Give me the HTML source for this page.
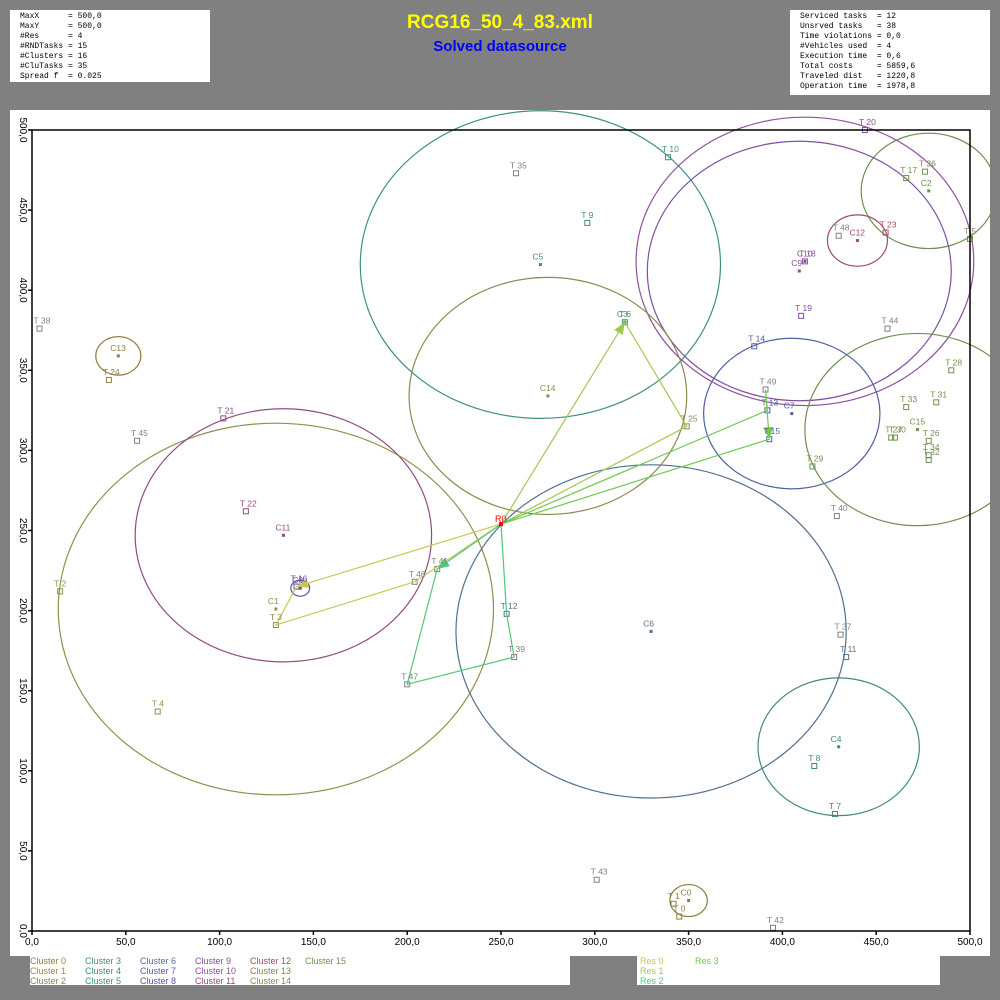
<!DOCTYPE html>
<html><head><meta charset="utf-8"><style>
body{margin:0;width:1000px;height:1000px;background:#808080;overflow:hidden;font-family:"Liberation Sans",sans-serif}
.box{position:absolute;background:#fff}
.info{font-family:"Liberation Mono",monospace;font-size:8px;line-height:10px;white-space:pre;color:#000;padding:2px 0 0 10px}
.leg{position:absolute;font-size:9px;line-height:10px}
</style></head><body>
<div class="box info" style="left:10px;top:10px;width:190px;height:70px">MaxX      = 500,0
MaxY      = 500,0
#Res      = 4
#RNDTasks = 15
#Clusters = 16
#CluTasks = 35
Spread f  = 0.025</div>
<div class="box info" style="left:790px;top:10px;width:190px;height:83px">Serviced tasks  = 12
Unsrved tasks   = 38
Time violations = 0,0
#Vehicles used  = 4
Execution time  = 0,6
Total costs     = 5859,6
Traveled dist   = 1220,8
Operation time  = 1978,8</div>
<div style="position:absolute;left:0;width:1000px;top:12px;text-align:center;color:#ffff00;font-weight:bold;font-size:19px">RCG16_50_4_83.xml</div>
<div style="position:absolute;left:0;width:1000px;top:38px;text-align:center;color:#0000ff;font-weight:bold;font-size:15px">Solved datasource</div>
<div class="box" style="left:10px;top:110px;width:980px;height:846px"></div>
<svg id="plot" width="1000" height="1000" style="position:absolute;left:0;top:0"></svg>
<div class="box" style="left:30px;top:955px;width:540px;height:30px"></div>
<div class="box" style="left:637px;top:955px;width:303px;height:30px"></div>
<div id="legs"></div>
<script>
const tNames=["T0","T1","T2","T3","T4","T5","T6","T7","T8","T9","T10","T11","T12","T13","T14","T15","T16","T17","T18","T19","T20","T21","T22","T23","T24","T25","T26","T27","T28","T29","T30","T31","T32","T33","T34","T35","T36","T37","T38","T39","T40","T41","T42","T43","T44","T45","T46","T47","T48","T49"];
const tX=[345,342,15,130,67,500,316,428,417,296,339,434,253,392,385,393,141,466,412,410,444,102,114,455,41,349,478,458,490,416,460,482,478,466,478,258,476,431,4,257,429,216,395,301,456,56,204,200,430,391];
const tY=[9,17,212,191,137,432,380,73,103,442,483,171,198,325,365,307,215,470,418,384,500,320,262,436,344,315,306,308,350,290,308,330,294,327,297,473,474,185,376,171,259,226,2,32,376,306,218,154,434,338];
const tCl=[0,0,1,1,1,2,3,4,4,5,5,6,6,7,7,7,8,2,10,9,9,11,11,12,13,14,15,15,15,15,15,15,15,15,15,-1,2,-1,-1,-1,-1,-1,-1,-1,-1,-1,-1,-1,-1,-1];
const cX=[350,130,478,316,430,271,330,405,143,409,412,134,440,46,275,472];
const cY=[19,201,462,380,115,416,187,323,214,412,418,247,431,359,334,313];
const cR=[10,116,36,0,43,96,104,47,5,81,90,79,16,12,74,60];
const cCol=["#8c8040","#90904c","#709050","#409070","#408c6c","#409080","#507090","#5060a0","#6050a0","#8050a0","#9050a0","#904c80","#a04c60","#908040","#8c8c4c","#709050"];
const resNames=["Res 0","Res 1","Res 2","Res 3"];
const resCol=["#c8c850","#a0c850","#50c878","#70c850"];
const routes=[[16,3,46],[6,25],[41,47,39,12],[13,49,15]];
const arrowAt=[16,6,41,15];
const depot=[250,254];
const xTicks=[0,50,100,150,200,250,300,350,400,450,500];
const yTicks=[0,50,100,150,200,250,300,350,400,450,500];
const X0=32,X1=970,Y0=931,Y1=130;
const sx=v=>X0+v*(X1-X0)/500, sy=v=>Y0-v*(Y0-Y1)/500;
const kx=(X1-X0)/500, ky=(Y0-Y1)/500;
const svg=document.getElementById('plot');const NS="http://www.w3.org/2000/svg";
function mk(t,a,p){const e=document.createElementNS(NS,t);for(const k in a)e.setAttribute(k,a[k]);(p||svg).appendChild(e);return e;}
function txt(x,y,s,c,sz,extra){const e=mk('text',Object.assign({x:x,y:y,fill:c,'font-size':sz||9,'font-family':'Liberation Sans, sans-serif'},extra||{}));e.textContent=s;return e;}
// clip
const defs=mk('defs',{});const cp=mk('clipPath',{id:'cp'},defs);mk('rect',{x:10,y:110,width:980,height:846},cp);
const g=mk('g',{'clip-path':'url(#cp)'});
// axes frame
let f=mk('rect',{x:X0,y:Y1,width:X1-X0,height:Y0-Y1,fill:'none',stroke:'#000','stroke-width':1.5});


xTicks.forEach(v=>{mk('line',{x1:sx(v),x2:sx(v),y1:Y0,y2:Y0+4,stroke:'#000','stroke-width':1.5});
 const t=txt(sx(v),Y0+14,v.toFixed(1).replace('.',','),'#000',10,{'text-anchor':'middle'});
 
 });
yTicks.forEach(v=>{mk('line',{x1:X0-4,x2:X0,y1:sy(v),y2:sy(v),stroke:'#000','stroke-width':1.5});
 const t=txt(0,0,v.toFixed(1).replace('.',','),'#000',10,{'text-anchor':'middle',transform:`translate(${X0-12},${sy(v)}) rotate(90)`});
 
 });
// clusters
cX.forEach((x,i)=>{
 if(cR[i]>0){const e=mk('ellipse',{cx:sx(x),cy:sy(cY[i]),rx:cR[i]*kx,ry:cR[i]*ky,fill:'none',stroke:cCol[i],'stroke-width':1.2},g);
 
 }
 const d=mk('rect',{x:sx(x)-1.5,y:sy(cY[i])-1.5,width:3,height:3,fill:cCol[i]},g);
 
 
 txt(sx(x)-8,sy(cY[i])-5,'C'+i,cCol[i],8.5,{},g);
});
// tasks
tX.forEach((x,i)=>{const c=tCl[i]<0?'#808080':cCol[tCl[i]];
 const r=mk('rect',{x:sx(x)-2.5,y:sy(tY[i])-2.5,width:5,height:5,fill:'none',stroke:c,'stroke-width':1},g);
 
 
 txt(sx(x)-6,sy(tY[i])-5,tNames[i].replace('T','T '),c,8.5,{},g);});
// routes
routes.forEach((rt,k)=>{const pts=[depot].concat(rt.map(i=>[tX[i],tY[i]])).concat([depot]);
 const pl=mk('polyline',{points:pts.map(p=>sx(p[0])+','+sy(p[1])).join(' '),fill:'none',stroke:resCol[k],'stroke-width':1.2},g);
 
 
 const a=arrowAt[k],ax=sx(tX[a]),ay=sy(tY[a]);const idx=rt.indexOf(a);const prev=idx===0?depot:[tX[rt[idx-1]],tY[rt[idx-1]]];
 const px=sx(prev[0]),py=sy(prev[1]);const ang=Math.atan2(ay-py,ax-px);
 const ar=mk('polygon',{points:`${ax},${ay} ${ax-12*Math.cos(ang)+5*Math.sin(ang)},${ay-12*Math.sin(ang)-5*Math.cos(ang)} ${ax-12*Math.cos(ang)-5*Math.sin(ang)},${ay-12*Math.sin(ang)+5*Math.cos(ang)}`,fill:resCol[k]},g);
 
 });
// depot
txt(sx(depot[0])-6,sy(depot[1])-2,'R0','#ff0000',9,{},g);
mk('rect',{x:sx(depot[0])-2,y:sy(depot[1])-2,width:4,height:4,fill:'#ff0000'},g);
// legends
const L=document.getElementById('legs');
cCol.forEach((c,i)=>{const d=document.createElement('div');d.className='leg';
 
 
 d.style.left=(30+Math.floor(i/3)*55)+'px';d.style.top=(956+(i%3)*10)+'px';d.style.color=c;d.textContent='Cluster '+i;L.appendChild(d);});
resNames.forEach((n,i)=>{const d=document.createElement('div');d.className='leg';
 
 
 d.style.left=(640+Math.floor(i/3)*55)+'px';d.style.top=(956+(i%3)*10)+'px';d.style.color=resCol[i];d.textContent=n;L.appendChild(d);});
</script>
</body></html>
